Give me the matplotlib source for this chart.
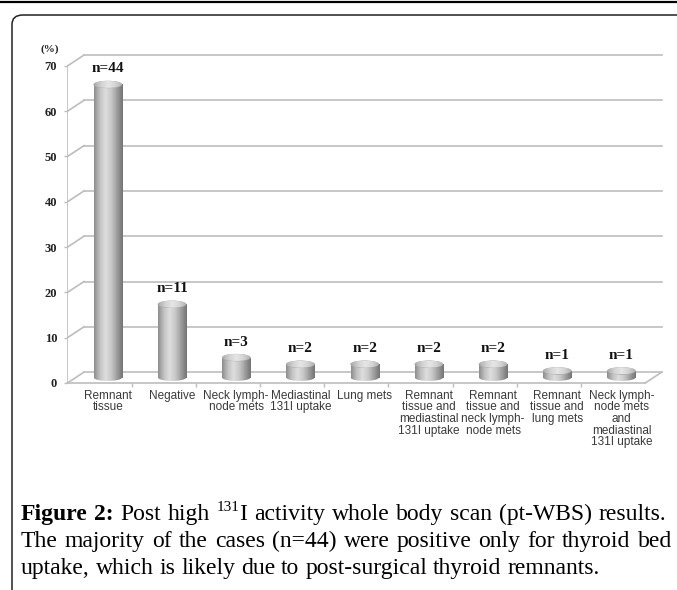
import numpy as np
import matplotlib
matplotlib.use("Agg")
import matplotlib.pyplot as plt
from matplotlib.colors import LinearSegmentedColormap
from matplotlib.patches import Ellipse, FancyBboxPatch
from matplotlib.lines import Line2D

# data
categories = ["Remnant\ntissue", "Negative", "Neck lymph-\nnode mets", "Mediastinal\n131I uptake",
              "Lung mets", "Remnant\ntissue and\nmediastinal\n131I uptake",
              "Remnant\ntissue and\nneck lymph-\nnode mets", "Remnant\ntissue and\nlung mets",
              "Neck lymph-\nnode mets\nand\nmediastinal\n131I uptake"]
counts = [44, 11, 3, 2, 2, 2, 2, 1, 1]
percent = [100.0 * c / sum(counts) for c in counts]
y_ticks = [0, 10, 20, 30, 40, 50, 60, 70]

W, H = 677, 590
fig = plt.figure(figsize=(W / 100, H / 100), dpi=100)

# page frame around the figure
fig.add_artist(Line2D([0, 1], [1 - 1.5 / H] * 2, color="black", lw=1.6))
fig.add_artist(FancyBboxPatch((12 / W, -0.1), 1.2, 1 - 15 / H + 0.1,
                              boxstyle="round,pad=0,rounding_size=0.016",
                              transform=fig.transFigure, fill=False, lw=1.1, ec="#222222"))

# chart axes: x in category slots, y in percent
ax = fig.add_axes([0.0997, 0.3202, 0.8914, 0.5988])
ax.set_xlim(-0.5, 8.9)
ax.set_ylim(-4, 74)
dx, dy = 0.257, 2.4  # depth offset of the back wall
grid_c = "#bdbdbd"

for t in y_ticks:
    ax.plot([-0.5, -0.5 + dx], [t, t + dy], color=grid_c, lw=1.2, zorder=1)
    ax.plot([-0.5 + dx, 8.5 + dx], [t + dy, t + dy], color=grid_c, lw=1.2, zorder=1)
ax.plot([-0.5, -0.5], [0, 70], color=grid_c, lw=1.2, zorder=1)
ax.plot([8.5, 8.5 + dx], [0, dy], color=grid_c, lw=1.2, zorder=1)

for s in ["top", "right", "left"]:
    ax.spines[s].set_visible(False)
ax.spines["bottom"].set_position(("data", 0))
ax.spines["bottom"].set_bounds(-0.5, 8.5)
ax.spines["bottom"].set_color(grid_c)
ax.spines["bottom"].set_linewidth(1.2)

ax.set_yticks(y_ticks)
ax.set_yticklabels([str(t) for t in y_ticks], family="Liberation Serif",
                   fontweight="bold", fontsize=9, color="#222222")
ax.tick_params(axis="y", length=2.5, width=1, color=grid_c, pad=5)

xs = np.arange(len(categories)) + dx / 2
ax.set_xticks(xs)
ax.set_xticklabels(categories, family="Liberation Sans", fontsize=8.5,
                   color="#3a3a3a", linespacing=0.95)
ax.set_xticks(np.arange(len(categories) - 1) + 0.5, minor=True)
ax.tick_params(axis="x", which="major", length=0, pad=5)
ax.tick_params(axis="x", which="minor", length=3, width=1, color=grid_c)

fig.text(50 / W, 1 - 49 / H, "(%)", family="Liberation Serif", fontweight="bold",
         fontsize=8, ha="center", va="center", color="#222222")

# cylinders
body_cmap = LinearSegmentedColormap.from_list(
    "body", ["#8e8e8e", "#c2c2c2", "#dedede", "#c8c8c8", "#9e9e9e", "#747474"])
top_cmap = LinearSegmentedColormap.from_list(
    "top", ["#ababab", "#d2d2d2", "#e6e6e6", "#d4d4d4", "#adadad"])
grad = np.linspace(0, 1, 64).reshape(1, -1)
base = dy / 2
bw = 0.44
eh = 1.5

bars = ax.bar(xs, percent, width=bw, bottom=base, color="none", edgecolor="none", zorder=3)
for bar, x, v, c in zip(bars, xs, percent, counts):
    im = ax.imshow(grad, cmap=body_cmap, extent=[x - bw / 2, x + bw / 2, base - eh / 2, base + v],
                   aspect="auto", zorder=3, interpolation="bilinear")
    im.set_clip_path(bar)
    bot = Ellipse((x, base), bw, eh, facecolor="none", edgecolor="none")
    ax.add_patch(bot)
    im2 = ax.imshow(grad, cmap=body_cmap, extent=[x - bw / 2, x + bw / 2, base - eh / 2, base + eh / 2],
                    aspect="auto", zorder=3, interpolation="bilinear")
    im2.set_clip_path(bot)
    top = Ellipse((x, base + v), bw, eh, facecolor="none", edgecolor="#a0a0a0", lw=0.4, zorder=4)
    ax.add_patch(top)
    im3 = ax.imshow(grad, cmap=top_cmap, extent=[x - bw / 2, x + bw / 2, base + v - eh / 2, base + v + eh / 2],
                    aspect="auto", zorder=4, interpolation="bilinear")
    im3.set_clip_path(top)
    ax.annotate(f"n={c}", (x, base + v + eh / 2), xytext=(0, 4), textcoords="offset points",
                ha="center", va="bottom", family="Liberation Serif", fontweight="bold",
                fontsize=11, color="#111111")

ax.set_xlim(-0.5, 8.9)
ax.set_ylim(-4, 74)

# caption, justified like the page text
renderer = fig.canvas.get_renderer()
cap_size = 17
norm = dict(family="Liberation Serif", fontsize=cap_size, color="black", va="baseline", ha="left")
bold = dict(norm, fontweight="bold")
sup = dict(norm, fontsize=11)


def words_of(text, props=norm):
    return [[(w, props, 0)] for w in text.split()]


def place_line(words, y_px, x0, x1=None):
    placed, widths = [], []
    for word in words:
        pieces, w = [], 0
        for txt, props, rise in word:
            t = fig.text(0, 0, txt, **props)
            pieces.append((t, w, rise))
            w += t.get_window_extent(renderer).width
        placed.append(pieces)
        widths.append(w)
    if x1 is None:
        gap = 0.25 * cap_size * 100 / 72
    else:
        gap = (x1 - x0 - sum(widths)) / (len(words) - 1)
    x = x0
    for pieces, w in zip(placed, widths):
        for t, off, rise in pieces:
            t.set_position(((x + off) / W, 1 - (y_px - rise) / H))
        x += w + gap


line1 = (words_of("Figure 2:", bold) + words_of("Post high")
         + [[("131", sup, 9), ("I", norm, 0)]]
         + words_of("activity whole body scan (pt-WBS) results."))
place_line(line1, 520, 21, 666)
place_line(words_of("The majority of the cases (n=44) were positive only for thyroid bed"), 547, 21, 672)
place_line(words_of("uptake, which is likely due to post-surgical thyroid remnants."), 574, 21)

fig.savefig("out.png", dpi=100)
plt.close(fig)
